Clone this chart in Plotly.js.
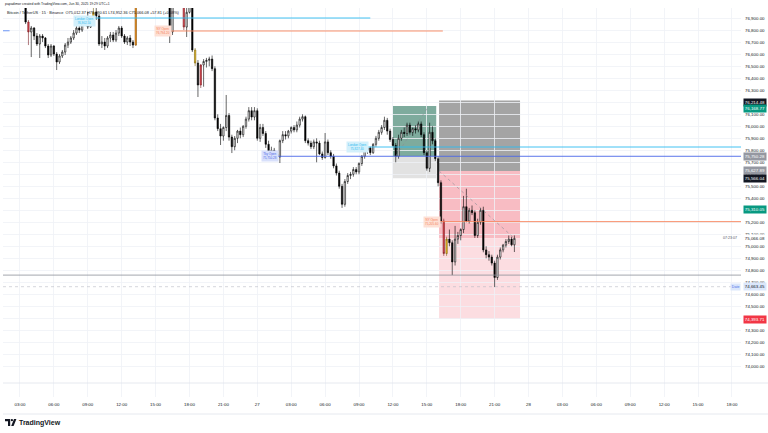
<!DOCTYPE html>
<html><head><meta charset="utf-8">
<script src="https://cdn.plot.ly/plotly-3.0.1.min.js"></script>
<style>html,body{margin:0;padding:0;background:#fff;}#chart{width:768px;height:433px;}</style>
</head><body><div id="chart"></div>
<script>
// ---- data (BTC/USDT 15m) ----
const startTime = '2025-06-26 03:30';
const barMinutes = 15;
const open  = [76986,76869,76786,76819,76752,76686,76752,76736,76669,76594,76669,76602,76536,76586,76619,76677,76702,76736,76777,76819,76802,76869,76886,76827,76869,76952,76919,76686,76702,76669,76736,76761,76719,76777,76819,76752,76702,76736,76702,76677,77040,77090,77150,77120,77080,77110,77170,77210,77140,77100,77060,77040,76786,77000,77050,77030,77010,76827,76950,77010,76636,76527,76344,76511,76540,76550,76560,76480,76069,75980,75919,75990,76090,75910,75830,75900,75960,75930,76000,76060,76130,76077,76130,75900,75990,75940,75850,75780,75800,75770,75744,75880,75930,75920,75960,75990,75970,76010,76060,76080,75880,75860,75830,75870,75860,75770,75740,75870,75780,75750,75670,75610,75500,75350,75540,75590,75600,75640,75620,75690,75750,75800,75820,75780,75850,75900,75950,75990,76050,75960,75890,75840,75750,75900,75950,75940,76010,75950,75980,75970,76020,75930,75780,75650,75950,75880,75730,75530,75210,74940,75060,75030,74870,75060,75090,75140,75330,75210,75300,75280,75090,75200,75300,74970,74930,74910,74860,74740,74910,74970,75010,75040,75060,75012.37];
const high  = [77011,76886,76836,76827,76777,76769,76769,76744,76686,76686,76677,76619,76602,76636,76694,76736,76752,76802,76844,76852,76902,76919,76952,76902,76986,77002,76936,76752,76736,76752,76786,76786,76802,76836,76836,76769,76752,76761,76719,77060,77120,77180,77220,77160,77140,77190,77250,77230,77180,77130,77100,77070,77010,77080,77100,77060,77030,77030,77050,77040,76652,76552,76519,76560,76570,76580,76590,76500,76100,76020,76000,76261,76110,75930,75919,75970,75990,76010,76080,76160,76160,76160,76150,76020,76020,75960,75880,75830,75820,75790,75890,75960,75960,75970,76000,76010,76040,76080,76100,76090,75900,75880,75890,75900,75880,75790,75944,75890,75800,75770,75690,75630,75520,75560,75610,75620,75660,75660,75700,75760,75820,75840,75830,75860,75920,75970,76010,76080,76070,75980,75910,75860,75930,75970,75990,76030,76030,75990,76010,76040,76040,75950,75800,76030,76000,75900,75750,75550,75230,75080,75140,75050,75170,75120,75150,75420,75480,75320,75340,75300,75230,75320,75330,75000,74960,74930,74880,74930,74990,75020,75060,75090,75080,75090.61];
const low   = [76852,76677,76577,76719,76669,76569,76702,76652,76569,76577,76586,76469,76519,76569,76594,76652,76686,76719,76761,76777,76786,76836,76811,76819,76852,76886,76669,76652,76636,76652,76702,76702,76702,76752,76736,76686,76677,76669,76652,76669,77010,77060,77100,77050,77020,77090,77140,77120,77060,77020,77000,76694,76761,76995,77000,76995,76802,76744,76940,76619,76502,76244,76319,76330,76490,76500,76460,76050,75960,75844,75880,75960,75880,75777,75800,75860,75900,75910,75980,76040,76050,76050,75880,75870,75920,75820,75760,75730,75740,75720,75694,75860,75890,75900,75940,75950,75950,75990,76040,75860,75840,75810,75810,75700,75760,75720,75730,75760,75730,75650,75590,75480,75320,75330,75520,75560,75580,75600,75600,75670,75730,75770,75760,75770,75830,75880,75930,75970,75930,75870,75830,75700,75730,75880,75910,75920,75930,75920,75940,75950,75910,75760,75630,75620,75850,75710,75500,75190,74920,74920,75000,74760,74840,75020,75050,75110,75200,75190,75260,75070,75070,75180,74950,74900,74880,74840,74660,74720,74890,74950,74990,75020,75000,74952.36];
const close = [76869,76786,76819,76752,76686,76752,76736,76669,76594,76669,76602,76536,76586,76619,76677,76702,76736,76777,76819,76802,76869,76886,76827,76869,76952,76919,76686,76702,76669,76736,76761,76719,76777,76819,76752,76702,76736,76702,76677,77040,77090,77150,77120,77080,77110,77170,77210,77140,77100,77060,77040,76786,77000,77050,77030,77010,76827,76950,77010,76636,76527,76344,76511,76540,76550,76560,76480,76069,75980,75919,75990,76090,75910,75830,75900,75960,75930,76000,76060,76130,76077,76130,75900,75990,75940,75850,75780,75800,75770,75744,75880,75930,75920,75960,75990,75970,76010,76060,76080,75880,75860,75830,75870,75860,75770,75740,75870,75780,75750,75670,75610,75500,75350,75540,75590,75600,75640,75620,75690,75750,75800,75820,75780,75850,75900,75950,75990,76050,75960,75890,75840,75750,75900,75950,75940,76010,75950,75980,75970,76020,75930,75780,75650,75950,75880,75730,75530,75210,74940,75060,75030,74870,75060,75090,75140,75330,75210,75300,75280,75090,75200,75300,74970,74930,74910,74860,74740,74910,74970,75010,75040,75060,75012.37,75066.08];
// highlighted (coloured) bars, by bar index
const redBars = [1, 56, 62, 148];
const yellowBars = [24, 60, 149];
const orangeBars = [39];

// time axis ticks
const tickTimes = ['2025-06-26 03:00','2025-06-26 06:00','2025-06-26 09:00','2025-06-26 12:00','2025-06-26 15:00','2025-06-26 18:00','2025-06-26 21:00','2025-06-27 00:00','2025-06-27 03:00','2025-06-27 06:00','2025-06-27 09:00','2025-06-27 12:00','2025-06-27 15:00','2025-06-27 18:00','2025-06-27 21:00','2025-06-28 00:00','2025-06-28 03:00','2025-06-28 06:00','2025-06-28 09:00','2025-06-28 12:00','2025-06-28 15:00','2025-06-28 18:00'];
const tickText = ['03:00','06:00','09:00','12:00','15:00','18:00','21:00','27','03:00','06:00','09:00','12:00','15:00','18:00','21:00','28','03:00','06:00','09:00','12:00','15:00','18:00'];
const priceTicks = [74000,74100,74200,74300,74400,74500,74600,74700,74800,74900,75000,75100,75200,75300,75400,75500,75600,75700,75800,75900,76000,76100,76200,76300,76400,76500,76600,76700,76800,76900];

// session levels
const sessionNames  = ['London Open','NY Open','Tky Open','London Open','NY Open'];
const sessionStart  = ['2025-06-26 08:40','2025-06-26 15:40','2025-06-27 01:05','2025-06-27 08:50','2025-06-27 15:30'];
const sessionEnd    = ['2025-06-27 10:00','2025-06-27 16:25','2025-06-28 18:48','2025-06-28 18:48','2025-06-28 18:48'];
const sessionPrice  = [76902.50, 76794.20, 75750.28, 75827.40, 75205.60];
const sessionLabelShift = [-3, 0, 0, 0, 0];

// other levels
const prevLevelStart = '2025-06-26 01:30';
const prevLevelEnd = '2025-06-26 02:05';
const prevLevelPrice = 76796.0;
const greyLevel = 74760.0;
const datePrice = 74663.45;

// long position tool (left)
const longStart = '2025-06-27 12:00', longEnd = '2025-06-27 15:50';
const longEntry = 75750.28, longTarget = 76168.77, longStop = 75566.04;
const longPathT = ['2025-06-27 12:15','2025-06-27 15:10'];
// short position tool (right)
const shortStart = '2025-06-27 16:05', shortEnd = '2025-06-27 23:15';
const shortEntry = 75627.89, shortStop = 76214.48, shortTarget = 74393.71;
const lastPrice = 75066.08;
const shortPathT = ['2025-06-27 16:05','2025-06-27 22:45'];

// price-scale labels
const axisLabelPrices = [76214.48, 76168.77, 75750.28, 75627.89, 75566.04, 75310.05, 75066.08, 74393.71];
const axisLabelBg   = ['#131722','#089981','#9598a1','#9598a1','#131722','#089981','#ffffff','#f23645'];
const axisLabelFg   = ['#ffffff','#ffffff','#ffffff','#ffffff','#ffffff','#ffffff','#131722','#ffffff'];
const axisLabelShift= [-2,-2,0,0,0,0,0,0];

const headerTop = 'papadimor created with TradingView.com, Jun 30, 2025 19:29 UTC+1';
const legendText = 'Bitcoin / TetherUS · 15 · Binance  O75,012.37 H75,090.61 L74,952.36 C75,066.08 +57.81 (+0.08%)';

// ---- build ----
const t0 = Date.UTC(2025,5,26,3,30);
const fmt = ms => new Date(ms).toISOString().slice(0,16).replace('T',' ');
const times = close.map((_, i) => fmt(t0 + i*barMinutes*60000));

const special = new Set([...redBars, ...yellowBars, ...orangeBars]);
function subset(idx){
  const s = new Set(idx);
  const pick = a => a.map((v,i)=> s.has(i) ? v : null);
  return {x: times, open: pick(open), high: pick(high), low: pick(low), close: pick(close)};
}
const mainIdx = close.map((_,i)=>i).filter(i=>!special.has(i));

const xr = ['2025-06-26 01:30','2025-06-28 18:48'];
const yr = [73744.2, 76985.8];

const traces = [];
function addCandles(idx, incFill, decFill, lineCol){
  const d = subset(idx);
  traces.push(Object.assign(d, {
    type:'candlestick', hoverinfo:'skip', showlegend:false, whiskerwidth:0,
    increasing:{fillcolor:incFill, line:{color:lineCol, width:0.6}},
    decreasing:{fillcolor:decFill, line:{color:lineCol, width:0.6}}
  }));
}
addCandles(mainIdx, '#ffffff', '#000000', '#000000');
addCandles(redBars, '#e0434d', '#e0434d', '#7a1f24');
addCandles(yellowBars, '#f2c21b', '#f2c21b', '#7a6210');
addCandles(orangeBars, '#f7931a', '#f7931a', '#8a5208');

// pixel helpers for decorative layout items (paper coords)
const PX0 = 3, PX1 = 741, PY0 = 8, PY1 = 397;
const pX = x => (x-PX0)/(PX1-PX0);
const pY = y => (PY1-y)/(PY1-PY0);

const shapes = [];
// position tools
shapes.push({type:'rect', xref:'x', yref:'y', x0:longStart, x1:longEnd, y0:longEntry, y1:longTarget, fillcolor:'#7eab9d', line:{width:0}, layer:'below'});
shapes.push({type:'rect', xref:'x', yref:'y', x0:longStart, x1:longEnd, y0:longStop, y1:longEntry, fillcolor:'#e2e2e2', line:{width:0}, layer:'below'});
shapes.push({type:'rect', xref:'x', yref:'y', x0:shortStart, x1:shortEnd, y0:shortEntry, y1:shortStop, fillcolor:'#a4a4a4', line:{width:0}, layer:'below'});
shapes.push({type:'rect', xref:'x', yref:'y', x0:shortStart, x1:shortEnd, y0:lastPrice, y1:shortEntry, fillcolor:'#f8bcc3', line:{width:0}, layer:'below'});
shapes.push({type:'rect', xref:'x', yref:'y', x0:shortStart, x1:shortEnd, y0:shortTarget, y1:lastPrice, fillcolor:'#fcdde1', line:{width:0}, layer:'below'});
shapes.push({type:'line', xref:'x', yref:'y', x0:shortPathT[0], x1:shortPathT[1], y0:shortEntry, y1:lastPrice, line:{color:'#8a8d96', width:0.6, dash:'dot'}});
shapes.push({type:'line', xref:'x', yref:'y', x0:longPathT[0], x1:longPathT[1], y0:longEntry, y1:longTarget, line:{color:'#8a8d96', width:0.6, dash:'dot'}});
// levels
const sessColor = {'London Open':'#2ebbf0','NY Open':'#f7825a','Tky Open':'#4a67e8'};
const sessBg = {'London Open':'#d3f0fb','NY Open':'#fde0d5','Tky Open':'#d8e0fb'};
sessionNames.forEach((n,i)=>{
  shapes.push({type:'line', xref:'x', yref:'y', x0:sessionStart[i], x1:sessionEnd[i], y0:sessionPrice[i], y1:sessionPrice[i], line:{color:sessColor[n], width:0.9}});
});
shapes.push({type:'line', xref:'x', yref:'y', x0:prevLevelStart, x1:prevLevelEnd, y0:prevLevelPrice, y1:prevLevelPrice, line:{color:'#5b8cf6', width:0.9}});
shapes.push({type:'line', xref:'paper', yref:'y', x0:0, x1:1, y0:greyLevel, y1:greyLevel, line:{color:'#8c8f98', width:0.8}});
shapes.push({type:'line', xref:'paper', yref:'y', x0:0, x1:1, y0:datePrice, y1:datePrice, line:{color:'#b8bbc4', width:0.6, dash:'dot'}});
// frame lines
shapes.push({type:'line', xref:'paper', yref:'paper', x0:0, x1:pX(768), y0:pY(383), y1:pY(383), line:{color:'#e0e3eb', width:0.8}});
shapes.push({type:'line', xref:'paper', yref:'paper', x0:0, x1:pX(768), y0:pY(414), y1:pY(414), line:{color:'#e0e3eb', width:0.8}});
// logo
function poly(pts){return 'M '+pts.map(p=>pX(p[0])+','+pY(p[1])).join(' L ')+' Z';}
shapes.push({type:'path', xref:'paper', yref:'paper', path:poly([[5,419],[10.2,419],[10.2,426],[8,426],[8,421.2],[5,421.2]]), fillcolor:'#131722', line:{width:0}});
shapes.push({type:'circle', xref:'paper', yref:'paper', x0:pX(10.8), x1:pX(13), y0:pY(421.3), y1:pY(419.1), fillcolor:'#131722', line:{width:0}});
shapes.push({type:'path', xref:'paper', yref:'paper', path:poly([[14,419],[16.4,419],[13.6,426],[11.2,426]]), fillcolor:'#131722', line:{width:0}});

const FONT = 'Liberation Sans, Arial, sans-serif';
const annotations = [];
annotations.push({xref:'paper', yref:'paper', x:pX(3), y:pY(4), xanchor:'left', yanchor:'middle', text:headerTop, showarrow:false, font:{family:FONT, size:3.4, color:'#131722'}});
annotations.push({xref:'paper', yref:'paper', x:pX(5), y:pY(12.5), xanchor:'left', yanchor:'middle', text:legendText, showarrow:false, font:{family:FONT, size:3.9, color:'#131722'}});
annotations.push({xref:'paper', yref:'paper', x:pX(16.5), y:pY(422.6), xanchor:'left', yanchor:'middle', text:'<b>TradingView</b>', showarrow:false, font:{family:FONT, size:7, color:'#131722'}});
// session labels
sessionNames.forEach((n,i)=>{
  annotations.push({xref:'x', yref:'y', x:sessionStart[i], y:sessionPrice[i], xanchor:'center', yanchor:'middle', yshift:sessionLabelShift[i],
    text:n+'<br>'+sessionPrice[i].toLocaleString('en-US',{minimumFractionDigits:2, maximumFractionDigits:2}),
    showarrow:false, bgcolor:sessBg[n], borderpad:1, font:{family:FONT, size:3, color:sessColor[n]}});
});
// price-scale labels
axisLabelPrices.forEach((p,i)=>{
  annotations.push({xref:'paper', yref:'y', x:1, y:p, xanchor:'left', yanchor:'middle', xshift:1.5, yshift:axisLabelShift[i],
    text:p.toLocaleString('en-US',{minimumFractionDigits:2, maximumFractionDigits:2}), showarrow:false,
    bgcolor:axisLabelBg[i], borderpad:0.8, font:{family:FONT, size:4.4, color:axisLabelFg[i]}});
});
annotations.push({xref:'paper', yref:'y', x:1, y:datePrice, xanchor:'left', yanchor:'middle', xshift:1.5,
  text:datePrice.toLocaleString('en-US',{minimumFractionDigits:2}), showarrow:false, bgcolor:'#dbe7fb', borderpad:0.8, font:{family:FONT, size:4.4, color:'#131722'}});
annotations.push({xref:'paper', yref:'y', x:1, y:datePrice, xanchor:'right', yanchor:'middle', xshift:-0.5,
  text:'Date', showarrow:false, bgcolor:'#dbe7fb', borderpad:0.8, font:{family:FONT, size:3.6, color:'#4a67e8'}});
annotations.push({xref:'paper', yref:'y', x:1, y:lastPrice, xanchor:'right', yanchor:'middle', xshift:-2,
  text:'07:23:07', showarrow:false, font:{family:FONT, size:3.6, color:'#50535e'}});

const layout = {
  width:768, height:433,
  margin:{l:PX0, r:768-PX1, t:PY0, b:433-PY1},
  paper_bgcolor:'#ffffff', plot_bgcolor:'#ffffff',
  showlegend:false, dragmode:false,
  xaxis:{type:'date', range:xr, rangeslider:{visible:false}, tickvals:tickTimes, ticktext:tickText,
    showgrid:true, gridcolor:'#eff1f6', gridwidth:0.8, zeroline:false, showline:false, ticks:'',
    tickfont:{family:FONT, size:4.4, color:'#131722'}, ticklabelstandoff:4, fixedrange:true},
  yaxis:{range:yr, side:'right', tickvals:priceTicks, tickformat:',.2f', showgrid:true, gridcolor:'#eff1f6', gridwidth:0.8,
    zeroline:false, showline:false, ticks:'', tickfont:{family:FONT, size:4.4, color:'#131722'}, ticklabelstandoff:3, fixedrange:true},
  shapes:shapes, annotations:annotations
};
Plotly.newPlot('chart', traces, layout, {staticPlot:true, displayModeBar:false});
</script></body></html>
